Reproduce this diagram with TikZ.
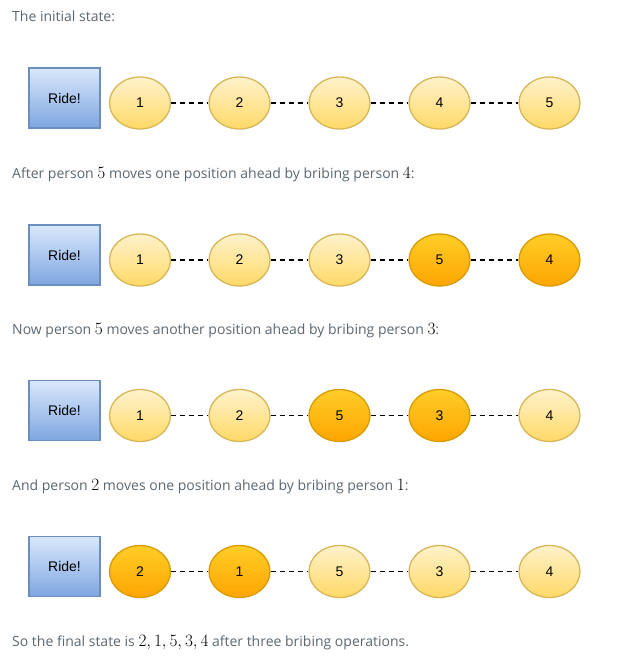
\documentclass[tikz,border=0pt]{standalone}
\usepackage{fontspec}
\setmainfont{Open Sans}
\newfontfamily\drawfont{Liberation Sans}
\usetikzlibrary{shapes.geometric}

\definecolor{txt}{HTML}{5B6770}
\definecolor{pTop}{HTML}{FFF2CC}
\definecolor{pBot}{HTML}{FFD966}
\definecolor{pLine}{HTML}{D6B656}
\definecolor{bTop}{HTML}{FFCD28}
\definecolor{bBot}{HTML}{FFA500}
\definecolor{bLine}{HTML}{D79B00}
\definecolor{rTop}{HTML}{DAE8FC}
\definecolor{rBot}{HTML}{7EA6E0}
\definecolor{rLine}{HTML}{6C8EBF}

\newcommand{\pnum}[1]{{\color{black}\fontsize{17}{17}\selectfont$#1$}}

\tikzset{
  person/.style={ellipse,draw=pLine,line width=.45mm,top color=pTop,bottom color=pBot,
    minimum width=61pt,minimum height=52pt,inner sep=0pt,font=\drawfont\fontsize{14}{16}\selectfont},
  bribed/.style={person,draw=bLine,top color=bTop,bottom color=bBot},
  ride/.style={rectangle,draw=rLine,line width=.45mm,top color=rTop,bottom color=rBot,
    minimum width=71pt,minimum height=60pt,inner sep=0pt,font=\drawfont\fontsize{14}{16}\selectfont},
  caption/.style={anchor=base west,inner sep=0pt,text=txt,font=\fontsize{14}{17}\selectfont},
  queue/.style={draw=black,line width=.6mm,dash pattern=on 5pt off 4pt}
}

\begin{document}
\begin{tikzpicture}[x=1pt,y=-1pt]
      \useasboundingbox (0,0) rectangle (641,661);

      \node[caption] (T0) at (12,22) {The initial state:};
      \node[ride] (R1) at (64.5,98) {Ride!};
      \node[person] (A1) at (140,103) {1};
      \node[person] (A2) at (239.5,103) {2};
      \node[person] (A3) at (339.5,103) {3};
      \node[person] (A4) at (439.5,103) {4};
      \node[person] (A5) at (549.5,103) {5};

      \node[caption] (T1) at (12,178) {After person \pnum{5} moves one position ahead by bribing person \pnum{4}:};
      \node[ride] (R2) at (64.5,255) {Ride!};
      \node[person] (B1) at (140,260) {1};
      \node[person] (B2) at (239.5,260) {2};
      \node[person] (B3) at (339.5,260) {3};
      \node[bribed] (B4) at (439.5,260) {5};
      \node[bribed] (B5) at (549.5,260) {4};

      \node[caption] (T2) at (12,334) {Now person \pnum{5} moves another position ahead by bribing person \pnum{3}:};
      \node[ride] (R3) at (64.5,410.5) {Ride!};
      \node[person] (C1) at (140,415.5) {1};
      \node[person] (C2) at (239.5,415.5) {2};
      \node[bribed] (C3) at (339.5,415.5) {5};
      \node[bribed] (C4) at (439.5,415.5) {3};
      \node[person] (C5) at (549.5,415.5) {4};

      \node[caption] (T3) at (12,490) {And person \pnum{2} moves one position ahead by bribing person \pnum{1}:};
      \node[ride] (R4) at (64.5,566.5) {Ride!};
      \node[bribed] (D1) at (140,571.5) {2};
      \node[bribed] (D2) at (239.5,571.5) {1};
      \node[person] (D3) at (339.5,571.5) {5};
      \node[person] (D4) at (439.5,571.5) {3};
      \node[person] (D5) at (549.5,571.5) {4};

      \node[caption] (T4) at (12,646) {So the final state is \pnum{2, 1, 5, 3, 4} after three bribing operations.};

      \draw[queue] (A1) -- (A2);
      \draw[queue] (A2) -- (A3);
      \draw[queue] (A3) -- (A4);
      \draw[queue] (A4) -- (A5);
      \draw[queue] (B1) -- (B2);
      \draw[queue] (B2) -- (B3);
      \draw[queue] (B3) -- (B4);
      \draw[queue] (B4) -- (B5);
      \draw[queue] (C1) -- (C2);
      \draw[queue] (C2) -- (C3);
      \draw[queue] (C3) -- (C4);
      \draw[queue] (C4) -- (C5);
      \draw[queue] (D1) -- (D2);
      \draw[queue] (D2) -- (D3);
      \draw[queue] (D3) -- (D4);
      \draw[queue] (D4) -- (D5);
    \end{tikzpicture}
\end{document}
